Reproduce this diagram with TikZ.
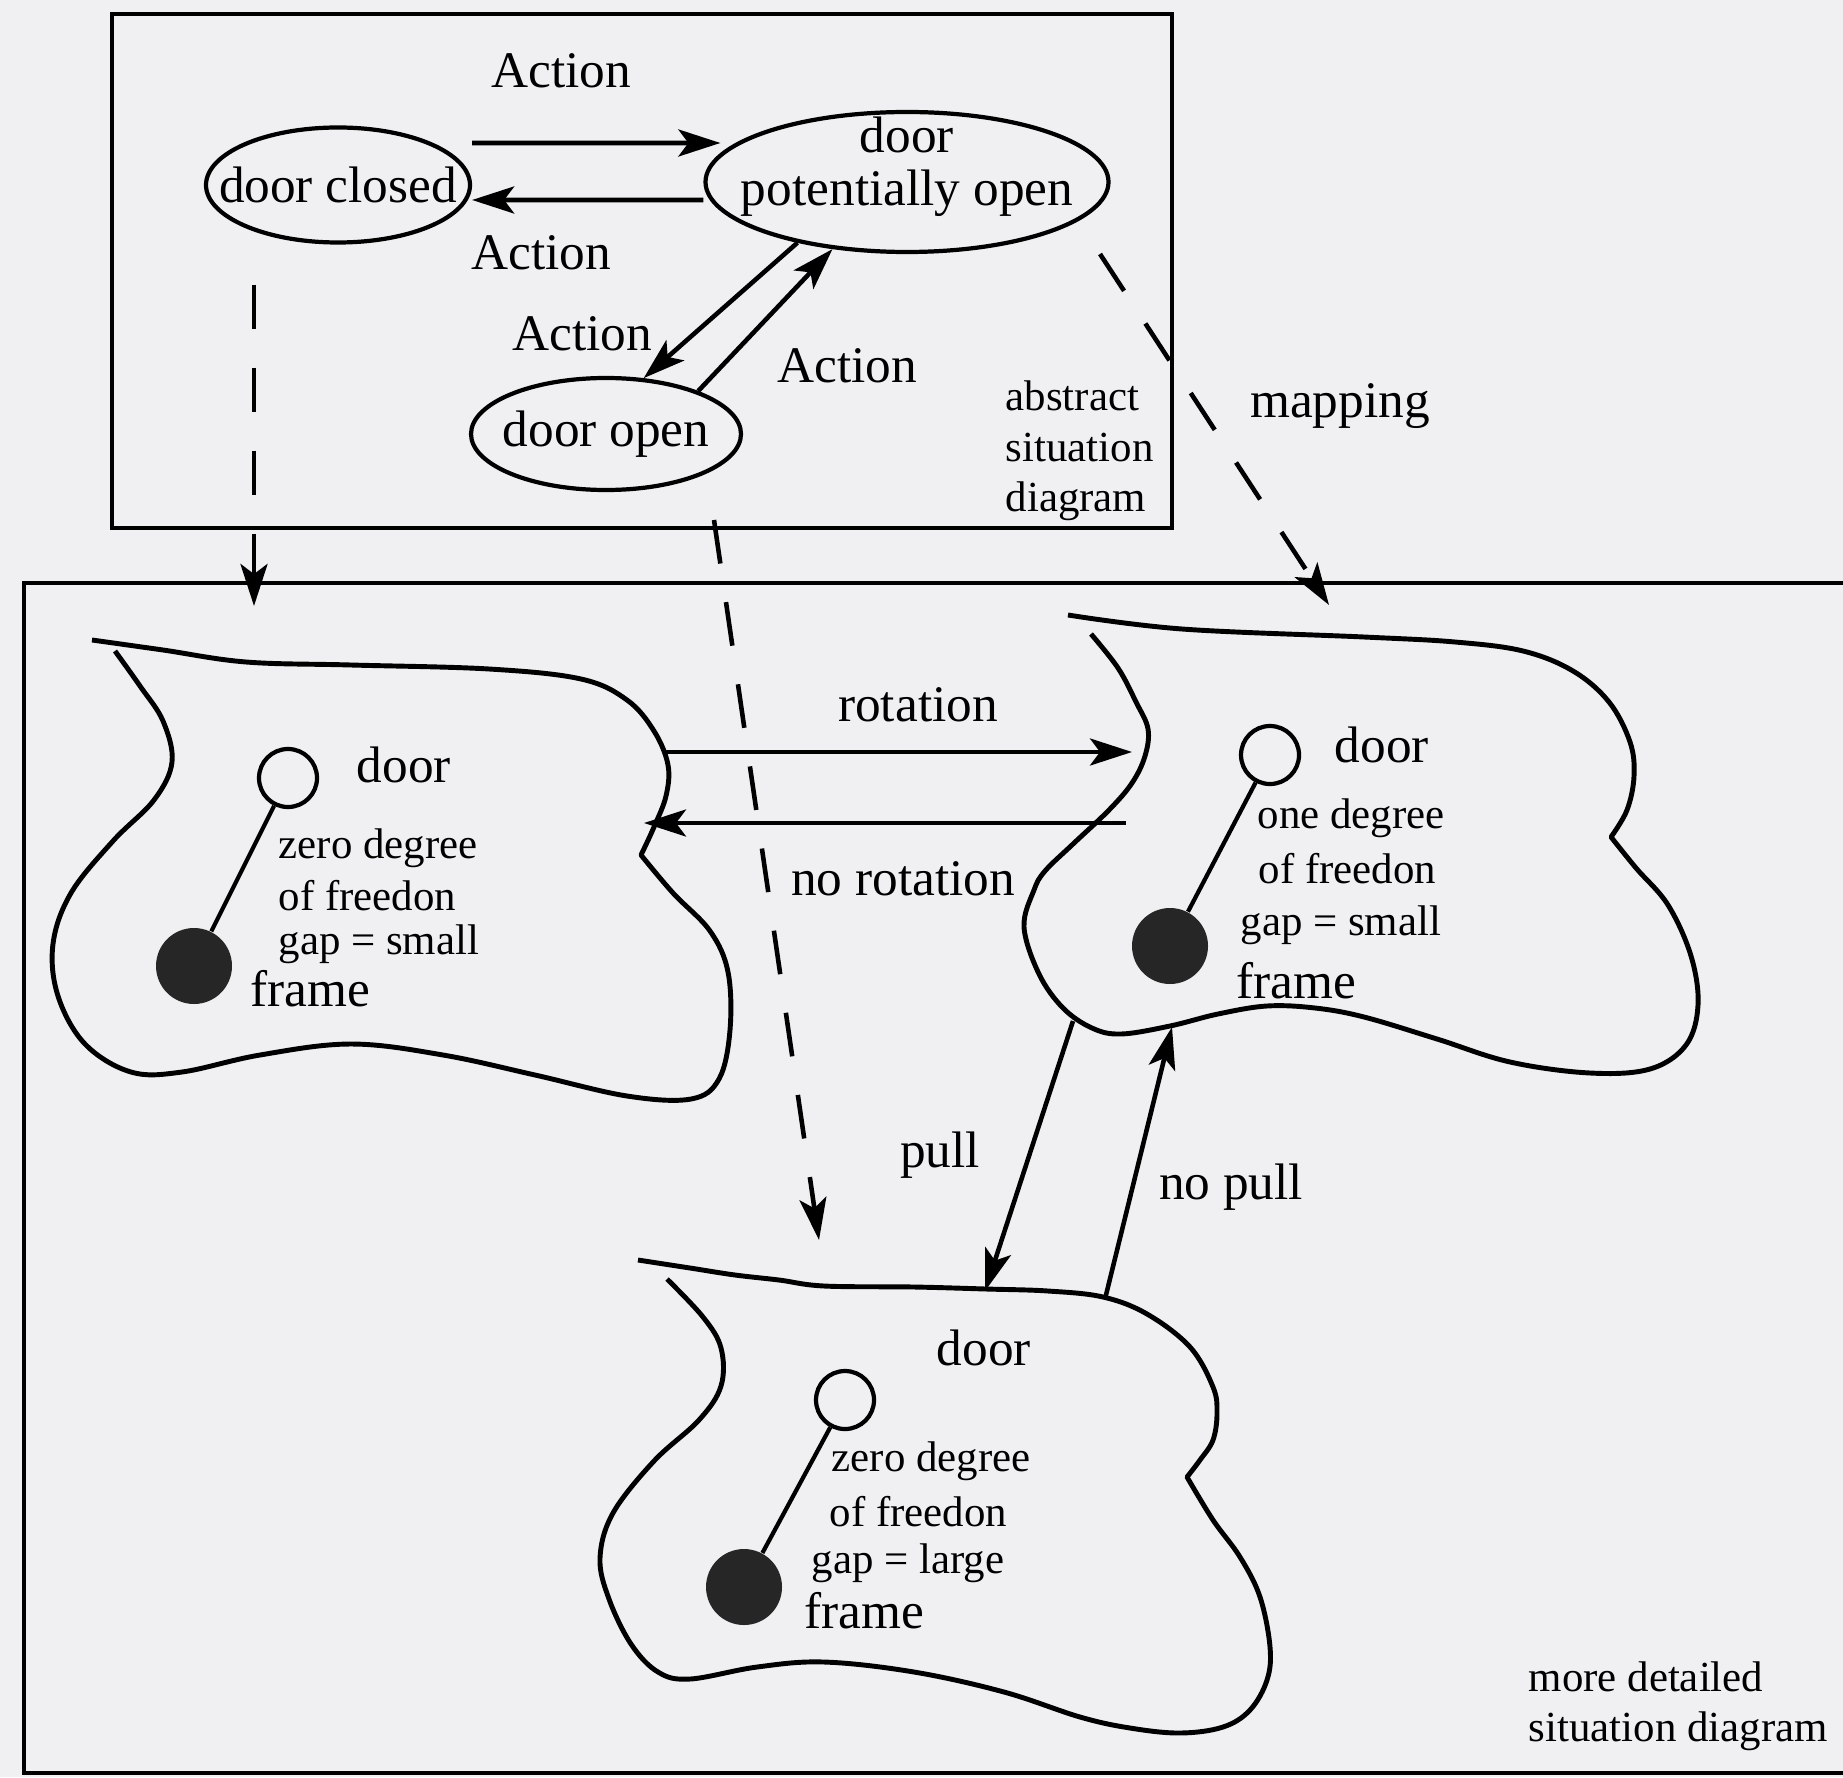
\documentclass[tikz,border=0pt]{standalone}
\usepackage{fontspec}
\setmainfont{Liberation Serif}
\usetikzlibrary{arrows.meta,shapes.geometric}
\definecolor{paper}{RGB}{240,240,243}
\newcommand{\lblfont}{\fontsize{14.6}{15}\selectfont}
\newcommand{\smlfont}{\fontsize{12.2}{14.3}\selectfont}

\begin{document}
\begin{tikzpicture}[
		state/.style={ellipse, draw, line width=1.2pt, inner sep=0pt},
		arr/.style={line width=1.3pt, -{Stealth[length=4.2mm, width=2.7mm, inset=1mm]}},
		mapline/.style={arr, dash pattern=on 4.4mm off 3.9mm},
		blob/.style={line width=1.4pt, line join=round},
		lbl/.style={font=\lblfont, inner sep=0pt},
		sml/.style={font=\smlfont, inner sep=0pt, anchor=west},
		hole/.style={circle, draw, line width=1.2pt, fill=paper, minimum size=5.8mm, inner sep=0pt},
		base/.style={circle, fill=black!85, minimum size=7.6mm, inner sep=0pt}]
		\useasboundingbox (0,0) rectangle (18.43,17.77);
		\fill[paper] (0,0) rectangle (18.43,17.77);
		
		%--- abstract situation diagram
		\draw[line width=1.4pt] (1.12,12.49) rectangle (11.72,17.63);
		\node[state, minimum width=2.64cm, minimum height=1.15cm] (closed) at (3.38,15.92) {};
		\node[lbl] (closedtxt) at (closed.center) {door closed};
		\node[state, minimum width=4.03cm, minimum height=1.40cm] (pot) at (9.07,15.95) {};
		\node[lbl, align=center] (pottxt) at ([yshift=1.5mm]pot.center) {door\\potentially open};
		\node[state, minimum width=2.70cm, minimum height=1.12cm] (open) at (6.06,13.43) {};
		\node[lbl] (opentxt) at (open.center) {door open};
		
		\draw[arr] ([yshift=4.2mm]closed.east) -- ([xshift=1.7mm,yshift=3.9mm]pot.west);
		\draw[arr] ([yshift=-1.8mm]pot.west) -- ([yshift=-1.5mm]closed.east);
		\draw[arr] (pot.209) -- (open.56);
		\draw[arr] (open.25) -- (pot.222);
		
		\node[lbl] (act1) at (5.61,17.06) {Action};
		\node[lbl] (act2) at (5.41,15.24) {Action};
		\node[lbl] (act3) at (5.82,14.43) {Action};
		\node[lbl] (act4) at (8.47,14.11) {Action};
		\node[sml, align=left] (abstr) at (10.05,13.26) {abstract\\situation\\diagram};
		
		%--- mapping
		\coordinate (m1) at (2.54,11.71);
		\coordinate (m2a) at (7.14,12.57);
		\coordinate (m2) at (8.19,5.37);
		\coordinate (m3a) at (11.00,15.23);
		\coordinate (m3) at (13.29,11.72);
		\draw[mapline] ([yshift=-4mm]closed.south -| m1) -- (m1);
		\draw[mapline] (m2a) -- (m2);
		\draw[mapline] (m3a) -- (m3);
		\node[lbl] (maplbl) at (13.40,13.71) {mapping};
		
		%--- more detailed situation diagram
		\draw[line width=1.4pt] (18.43,11.94) -- (0.24,11.94) -- (0.24,0.04) -- (18.43,0.04);
		
		% blob: door closed
		\draw[blob] plot[smooth, tension=0.6] coordinates {(0.92,11.37) (1.63,11.27) (2.46,11.15) (3.51,11.12) (4.89,11.08) (5.81,10.98) (6.27,10.77) (6.54,10.46) (6.68,10.12) (6.66,9.81) (6.54,9.50) (6.41,9.22)}
			-- plot[smooth, tension=0.6] coordinates {(6.41,9.22) (6.73,8.84) (7.10,8.46) (7.28,8.05) (7.30,7.47) (7.19,6.98) (6.91,6.78) (6.27,6.81) (5.35,7.02) (4.43,7.22) (3.51,7.33) (2.60,7.22) (1.82,7.05) (1.31,7.05) (0.85,7.33) (0.58,7.81) (0.53,8.33) (0.71,8.84) (1.13,9.36) (1.54,9.77) (1.72,10.15) (1.63,10.56) (1.40,10.91) (1.15,11.26)};
		\node[hole] (hole1) at (2.88,9.99) {};
		\node[base] (base1) at (1.94,8.11) {};
		\draw[line width=1.2pt] (hole1) -- (base1);
		\node[lbl, anchor=west] (door1) at (3.56,10.12) {door};
		\node[sml] (dof1a) at (2.78,9.29) {zero degree};
		\node[sml] (dof1b) at (2.78,8.81) {of freedon};
		\node[sml] (gap1) at (2.78,8.33) {gap = small};
		\node[lbl, anchor=west] (frame1) at (2.50,7.88) {frame};
		
		% blob: door potentially open
		\draw[blob] plot[smooth, tension=0.6] coordinates {(10.68,11.62) (11.82,11.48) (13.64,11.40) (14.55,11.35) (15.23,11.26) (15.73,11.06) (16.09,10.75) (16.30,10.35) (16.34,10.01) (16.27,9.67) (16.11,9.40)}
			-- plot[smooth, tension=0.6] coordinates {(16.11,9.40) (16.36,9.09) (16.68,8.72) (16.91,8.21) (16.98,7.72) (16.86,7.32) (16.50,7.08) (15.90,7.04) (15.10,7.15) (14.37,7.38) (13.64,7.60) (13.15,7.69) (12.67,7.71) (12.18,7.63) (11.70,7.51) (11.21,7.43) (10.92,7.49) (10.63,7.69) (10.39,8.03) (10.24,8.50) (10.34,8.87) (10.45,9.06) (10.73,9.33) (11.09,9.67) (11.32,9.94) (11.45,10.21) (11.48,10.48) (11.36,10.75) (11.18,11.09) (10.91,11.43)};
		\node[hole] (hole2) at (12.70,10.22) {};
		\node[base] (base2) at (11.70,8.31) {};
		\draw[line width=1.2pt] (hole2) -- (base2);
		\node[lbl, anchor=west] (door2) at (13.34,10.32) {door};
		\node[sml] (dof2a) at (12.57,9.59) {one degree};
		\node[sml] (dof2b) at (12.58,9.08) {of freedon};
		\node[sml] (gap2) at (12.40,8.52) {gap = small};
		\node[lbl, anchor=west] (frame2) at (12.36,7.96) {frame};
		
		% blob: door open
		\draw[blob] plot[smooth, tension=0.6] coordinates {(6.38,5.17) (6.90,5.09) (7.35,5.02) (7.79,4.97) (8.24,4.91) (9.14,4.90) (9.86,4.88) (10.48,4.86) (11.03,4.80) (11.47,4.63) (11.90,4.30) (12.13,3.90) (12.17,3.64) (12.13,3.37) (12.00,3.17) (11.87,3.00)}
			-- plot[smooth, tension=0.6] coordinates {(11.87,3.00) (12.13,2.57) (12.40,2.20) (12.60,1.80) (12.70,1.30) (12.67,0.97) (12.50,0.67) (12.23,0.50) (11.80,0.44) (11.30,0.49) (10.80,0.60) (10.04,0.85) (9.14,1.05) (8.24,1.15) (7.57,1.10) (6.90,0.98) (6.58,1.05) (6.31,1.33) (6.09,1.78) (6.00,2.19) (6.13,2.64) (6.54,3.16) (6.99,3.57) (7.21,3.91) (7.21,4.29) (7.03,4.60) (6.67,4.98)};
		\node[hole] (hole3) at (8.45,3.77) {};
		\node[base] (base3) at (7.44,1.90) {};
		\draw[line width=1.2pt] (hole3) -- (base3);
		\node[lbl, anchor=west] (door3) at (9.36,4.29) {door};
		\node[sml] (dof3a) at (8.31,3.16) {zero degree};
		\node[sml] (dof3b) at (8.29,2.65) {of freedon};
		\node[sml] (gap3) at (8.11,2.14) {gap = large};
		\node[lbl, anchor=west] (frame3) at (8.04,1.66) {frame};
		
		%--- transitions
		\coordinate (rot1) at (6.63,10.25);
		\coordinate (rot2) at (11.32,10.25);
		\coordinate (nrot2) at (11.26,9.54);
		\coordinate (nrot1) at (6.44,9.54);
		\coordinate (pull2) at (10.73,7.56);
		\coordinate (pull3) at (9.85,4.86);
		\coordinate (npull3) at (11.05,4.78);
		\coordinate (npull2) at (11.72,7.50);
		\draw[arr] (rot1) -- (rot2);
		\draw[arr] (nrot2) -- (nrot1);
		\draw[arr] (pull2) -- (pull3);
		\draw[arr] (npull3) -- (npull2);
		\node[lbl] (rotlbl) at (9.18,10.72) {rotation};
		\node[lbl] (nrotlbl) at (9.03,8.98) {no rotation};
		\node[lbl] (pulllbl) at (9.40,6.22) {pull};
		\node[lbl] (npulllbl) at (12.31,5.90) {no pull};
		\node[sml, align=left] (moredet) at (15.28,0.71) {more detailed\\situation diagram};
	\end{tikzpicture}
\end{document}
